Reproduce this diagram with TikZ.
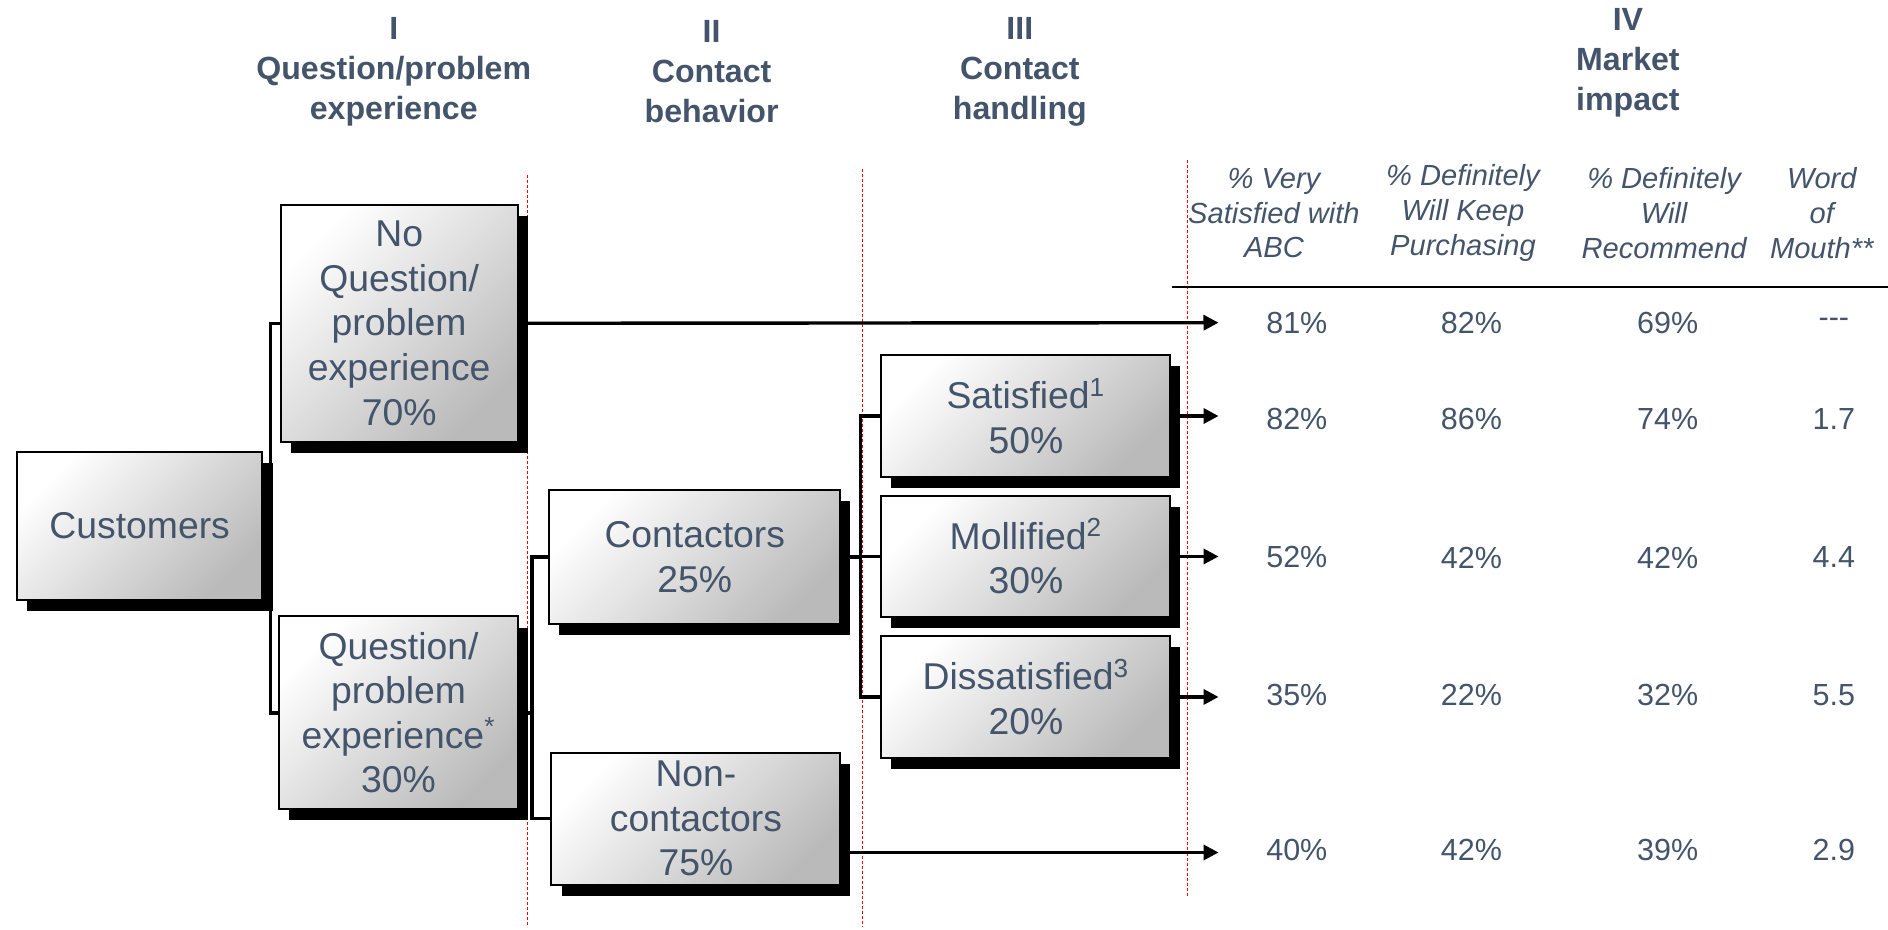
\documentclass[tikz,border=0pt]{standalone}
\usepackage{fontspec}
\setmainfont{Liberation Sans}
\usetikzlibrary{positioning, shadows, arrows.meta}
\definecolor{txtblue}{RGB}{68,84,106}

\tikzset{
  box/.style={draw=black, line width=1pt, top color=white, bottom color=black!27,
    shading angle=45, drop shadow={shadow xshift=5pt, shadow yshift=-5.5pt, fill=black, opacity=1},
    text=txtblue, align=center, inner sep=1pt, font=\fontsize{18.6}{22.2}\selectfont},
  hdr/.style={text=txtblue, align=center, font=\bfseries\fontsize{16}{19.8}\selectfont},
  colhd/.style={text=txtblue, align=center, font=\itshape\fontsize{14.5}{17.4}\selectfont},
  val/.style={text=txtblue, font=\fontsize{15.2}{18}\selectfont},
  sep/.style={red, line width=0.5pt, dash pattern=on 1.5pt off 1pt},
  link/.style={line width=1.7pt},
  arr/.style={line width=1.7pt, -{Triangle[length=7.5pt, width=7.5pt]}}
}

\begin{document}
\begin{tikzpicture}[x=0.6pt, y=-0.6pt]
\useasboundingbox (0,0) rectangle (1568,772);

% stage headers
\node[hdr] (H1) at (327,59.5) {I\\Question/problem\\experience};
\node[hdr] (H2) at (591,59.5) {II\\Contact\\behavior};
\node[hdr] (H3) at (847,59.5) {III\\Contact\\handling};
\node[hdr] (H4) at (1352,52)  {IV\\Market\\impact};

% separators
\draw[sep] (438,145) -- (438,770);
\draw[sep] (716,140) -- (716,770);
\draw[sep] (986,133) -- (986,745);

% boxes
\node[box, minimum width=122.4pt, minimum height=73.8pt] (Cu) at (116,436.5) {Customers};
\node[box, minimum width=118.2pt, minimum height=118.2pt] (NQ) at (331.5,268.5) {No\\Question/\\problem\\experience\\70\%};
\node[box, minimum width=118.8pt, minimum height=96pt]    (Q)  at (331,592) {Question/\\problem\\experience\textsuperscript{*}\\30\%};
\node[box, minimum width=145.2pt, minimum height=66.6pt]  (Co) at (577,462.5) {Contactors\\25\%};
\node[box, minimum width=144pt, minimum height=66pt]      (NC) at (578,680) {Non-\\contactors\\75\%};
\node[box, minimum width=144pt, minimum height=60.6pt]    (S)  at (852,345.5) {Satisfied\textsuperscript{1}\\50\%};
\node[box, minimum width=144pt, minimum height=60.6pt]    (M)  [below=8.4pt of S] {Mollified\textsuperscript{2}\\30\%};
\node[box, minimum width=144pt, minimum height=60.6pt]    (D)  [below=8.4pt of M] {Dissatisfied\textsuperscript{3}\\20\%};

% tree links
\draw[link] (Cu.east) -- ++(3.6pt,0) |- (NQ.west);
\draw[link] (Cu.east) -- ++(3.6pt,0) |- (Q.west);
\draw[link] (Q.east) -- ++(6.6pt,0) |- (Co.west);
\draw[link] (Q.east) -- ++(6.6pt,0) |- (NC.west);
\draw[link] (Co.east) -- ++(9.6pt,0) |- (S.west);
\draw[link] (Co.east) -- ++(9.6pt,0) |- (M.west);
\draw[link] (Co.east) -- ++(9.6pt,0) |- (D.west);

% arrow ends
\coordinate (E1) at (1012,268);
\coordinate (E2) at (1012,0 |- S.west);
\coordinate (E3) at (1012,0 |- M.west);
\coordinate (E4) at (1012,0 |- D.west);
\coordinate (E5) at (1012,708);

\path
(NQ.east) edge[arr] (E1)
(S.east)  edge[arr] (E2)
(M.east)  edge[arr] (E3)
(D.east)  edge[arr] (E4)
(NC.east |- E5) edge[arr] (E5);

% market impact table
\node[colhd] (T1) at (1058,177) {\% Very\\Satisfied with\\ABC};
\node[colhd] (T2) at (1215,177) {\% Definitely\\Will Keep\\Purchasing};
\node[colhd] (T3) at (1382,177) {\% Definitely\\Will\\Recommend};
\node[colhd] (T4) at (1513,177) {Word\\of\\Mouth**};
\draw[line width=1pt] (973,238) -- (1568,238);

\node[val] (A1) at (1077,268) {81\%};
\node[val] (B1) at (1222,268) {82\%};
\node[val] (C1) at (1385,268) {69\%};
\node[val] (D1) at (1523,268) {-{}-{}-};

\node[val] (A2) at (1077,348) {82\%};
\node[val] (B2) at (1222,348) {86\%};
\node[val] (C2) at (1385,348) {74\%};
\node[val] (D2) at (1523,348) {1.7};

\node[val] (A3) at (1077,463) {52\%};
\node[val] (B3) at (1222,463) {42\%};
\node[val] (C3) at (1385,463) {42\%};
\node[val] (D3) at (1523,463) {4.4};

\node[val] (A4) at (1077,577) {35\%};
\node[val] (B4) at (1222,577) {22\%};
\node[val] (C4) at (1385,577) {32\%};
\node[val] (D4) at (1523,577) {5.5};

\node[val] (A5) at (1077,706) {40\%};
\node[val] (B5) at (1222,706) {42\%};
\node[val] (C5) at (1385,706) {39\%};
\node[val] (D5) at (1523,706) {2.9};

\end{tikzpicture}
\end{document}
